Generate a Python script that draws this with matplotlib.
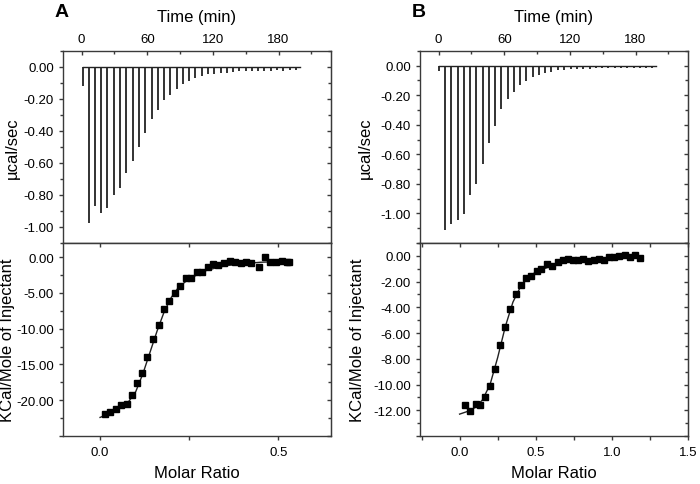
import matplotlib
matplotlib.use('Agg')
import matplotlib.pyplot as plt
from matplotlib.ticker import MultipleLocator, FormatStrFormatter, FuncFormatter

plt.rcParams['font.family'] = ['Liberation Sans', 'DejaVu Sans']
plt.rcParams['axes.unicode_minus'] = False

# ---- panel A: raw heat (injection time in min, peak depth in ucal/sec)
time_a = [1.2, 6.4, 12.2, 18.0, 23.5, 29.3, 35.1, 40.9, 46.7, 52.5, 58.1, 63.9,
          69.6, 75.4, 81.2, 86.8, 92.6, 98.4, 103.9, 109.7, 115.5, 121.3, 127.1,
          132.6, 138.4, 144.2, 150.0, 155.8, 161.3, 167.1, 172.9, 178.7, 184.5,
          190.0, 195.9]
peak_a = [-0.12, -0.975, -0.866, -0.913, -0.88, -0.80, -0.758, -0.665, -0.587,
          -0.502, -0.41, -0.324, -0.267, -0.205, -0.174, -0.138, -0.107, -0.085,
          -0.072, -0.056, -0.045, -0.043, -0.039, -0.035, -0.031, -0.027, -0.027,
          -0.025, -0.023, -0.023, -0.023, -0.021, -0.023, -0.021, -0.019]
run_end_a = 200.0

# ---- panel A: integrated heats
ratio_a = [0.014, 0.028, 0.044, 0.060, 0.075, 0.090, 0.103, 0.118, 0.133, 0.149,
           0.164, 0.179, 0.194, 0.209, 0.225, 0.240, 0.254, 0.271, 0.286, 0.302,
           0.317, 0.332, 0.348, 0.364, 0.379, 0.394, 0.410, 0.424, 0.446, 0.462,
           0.478, 0.493, 0.509, 0.524, 0.530]
heat_a = [-21.9, -21.6, -21.2, -20.6, -20.5, -19.3, -17.6, -16.2, -13.9, -11.5,
          -9.5, -7.3, -6.1, -5.0, -4.0, -2.9, -2.85, -2.0, -2.1, -1.35,
          -1.0, -1.1, -0.8, -0.5, -0.65, -0.8, -0.6, -0.8, -1.4, 0.0,
          -0.7, -0.6, -0.5, -0.6, -0.7]
fit_x_a = [0.0, 0.03, 0.06, 0.08, 0.10, 0.12, 0.14, 0.16, 0.18, 0.20, 0.22,
           0.25, 0.30, 0.35, 0.40, 0.45, 0.53]
fit_y_a = [-22.4, -21.8, -21.0, -20.2, -18.8, -16.3, -13.3, -10.3, -7.6, -5.6,
           -4.2, -3.0, -1.8, -1.2, -0.9, -0.7, -0.55]

# ---- panel B: raw heat
time_b = [0.3, 5.8, 11.5, 17.3, 23.0, 28.8, 34.5, 40.3, 45.8, 51.5, 57.3, 63.0,
          68.8, 74.5, 80.3, 86.1, 91.8, 97.6, 103.0, 109.1, 114.8, 120.6, 126.4,
          132.1, 137.9, 143.6, 149.4, 155.2, 160.9, 166.7, 172.4, 178.2, 183.9,
          189.7, 195.4]
peak_b = [-0.035, -1.11, -1.075, -1.045, -1.007, -0.878, -0.803, -0.667, -0.525,
          -0.407, -0.294, -0.226, -0.176, -0.131, -0.102, -0.079, -0.063, -0.05,
          -0.041, -0.032, -0.027, -0.025, -0.023, -0.021, -0.02, -0.019, -0.018,
          -0.017, -0.016, -0.016, -0.015, -0.015, -0.014, -0.014, -0.013]
run_end_b = 198.5

# ---- panel B: integrated heats
ratio_b = [0.033, 0.066, 0.106, 0.132, 0.165, 0.198, 0.231, 0.267, 0.300, 0.333,
           0.368, 0.403, 0.438, 0.469, 0.507, 0.537, 0.573, 0.608, 0.643, 0.678,
           0.711, 0.744, 0.778, 0.813, 0.846, 0.881, 0.914, 0.947, 0.982, 1.015,
           1.048, 1.084, 1.117, 1.150, 1.185]
heat_b = [-11.6, -12.05, -11.5, -11.6, -10.95, -10.1, -8.8, -6.95, -5.55, -4.15,
          -3.0, -2.3, -1.7, -1.55, -1.2, -1.05, -0.65, -0.78, -0.47, -0.36,
          -0.28, -0.36, -0.31, -0.26, -0.39, -0.31, -0.21, -0.31, -0.10, -0.10,
          -0.05, 0.05, -0.08, 0.05, -0.2]
fit_x_b = [0.0, 0.05, 0.10, 0.15, 0.20, 0.25, 0.30, 0.35, 0.40, 0.45, 0.50,
           0.60, 0.70, 0.80, 0.90, 1.00, 1.19]
fit_y_b = [-12.3, -12.1, -11.8, -11.2, -10.0, -7.9, -5.5, -3.6, -2.4, -1.7,
           -1.25, -0.8, -0.5, -0.35, -0.25, -0.18, -0.12]

SPINE = '#3a3a3a'
fig = plt.figure(figsize=(7, 4.85), dpi=100)


def no_bottom_label(lo):
    # the reference leaves the tick at the lower axis limit unlabelled
    return FuncFormatter(lambda v, p: '' if abs(v - lo) < 1e-9 else f'{v:.2f}')


def style(ax):
    for s in ax.spines.values():
        s.set_color(SPINE)
        s.set_linewidth(1.0)
    ax.tick_params(which='both', colors=SPINE, labelcolor='black', labelsize=9.5, width=1.0)
    ax.tick_params(which='major', length=3)
    ax.tick_params(which='minor', length=2.5)


def inner_right(ax, maj, mnr):
    sec = ax.secondary_yaxis('right')
    sec.yaxis.set_major_locator(MultipleLocator(maj))
    sec.yaxis.set_minor_locator(MultipleLocator(mnr))
    sec.tick_params(which='both', direction='in', colors=SPINE, labelright=False, width=1.0)
    sec.tick_params(which='major', length=3)
    sec.tick_params(which='minor', length=2.5)
    sec.spines['right'].set_color(SPINE)


def raw_panel(rect, t, peaks, t_end, ylim, letter, lab_x):
    ax = fig.add_axes(rect)
    ax.plot([t[0], t_end], [0, 0], color='#222222', lw=1.0)
    ax.vlines(t, peaks, 0, color='#222222', lw=1.3)
    ax.set_xlim(-17, 228)
    ax.set_ylim(*ylim)
    style(ax)
    ax.xaxis.tick_top()
    ax.xaxis.set_label_position('top')
    ax.xaxis.set_major_locator(MultipleLocator(60))
    ax.xaxis.set_minor_locator(MultipleLocator(30))
    ax.yaxis.set_major_locator(MultipleLocator(0.2))
    ax.yaxis.set_minor_locator(MultipleLocator(0.1))
    ax.yaxis.set_major_formatter(no_bottom_label(ylim[0]))
    ax.tick_params(axis='x', which='both', direction='in', top=True, bottom=False)
    ax.tick_params(axis='y', which='both', direction='out', left=True, right=False)
    ax.tick_params(axis='x', pad=4)
    ax.set_xlabel('Time (min)', fontsize=12, labelpad=9)
    ax.set_ylabel('\u00b5cal/sec', fontsize=12)
    ax.yaxis.set_label_coords(lab_x, 0.5)
    inner_right(ax, 0.2, 0.1)
    ax.text(-0.03, 1.205, letter, transform=ax.transAxes, fontsize=14,
            fontweight='bold', ha='left', va='center')
    return ax


def heat_panel(rect, x, y, fx, fy, xlim, ylim, ymaj, ymin, lab_x):
    ax = fig.add_axes(rect)
    ax.plot(fx, fy, color='#222222', lw=1.0, zorder=2)
    ax.plot(x, y, 's', color='black', ms=5, zorder=3)
    ax.set_xlim(*xlim)
    ax.set_ylim(*ylim)
    style(ax)
    ax.xaxis.set_major_locator(MultipleLocator(0.5))
    ax.xaxis.set_minor_locator(MultipleLocator(0.25))
    ax.xaxis.set_major_formatter(FormatStrFormatter('%.1f'))
    ax.yaxis.set_major_locator(MultipleLocator(ymaj))
    ax.yaxis.set_minor_locator(MultipleLocator(ymin))
    ax.yaxis.set_major_formatter(no_bottom_label(ylim[0]))
    ax.tick_params(axis='x', which='both', direction='out', bottom=True, top=False)
    ax.tick_params(axis='x', which='minor', length=3)
    ax.tick_params(axis='y', which='both', direction='out', left=True, right=False)
    ax.tick_params(axis='x', pad=4)
    secx = ax.secondary_xaxis('top')
    secx.xaxis.set_major_locator(MultipleLocator(0.5))
    secx.xaxis.set_minor_locator(MultipleLocator(0.25))
    secx.tick_params(which='both', direction='in', colors=SPINE, labeltop=False, length=3, width=1.0)
    secx.spines['top'].set_color(SPINE)
    inner_right(ax, ymaj, ymin)
    ax.set_xlabel('Molar Ratio', fontsize=12, labelpad=5)
    ax.set_ylabel('KCal/Mole of Injectant', fontsize=12)
    ax.yaxis.set_label_coords(lab_x, 0.5)
    return ax


top_h = 0.396
bot_h = 0.398
raw_panel([0.090, 0.497, 0.383, top_h], time_a, peak_a, run_end_a, (-1.1, 0.1), 'A', -0.16)
raw_panel([0.600, 0.497, 0.383, top_h], time_b, peak_b, run_end_b, (-1.2, 0.1), 'B', -0.175)
heat_panel([0.090, 0.099, 0.383, bot_h], ratio_a, heat_a, fit_x_a, fit_y_a,
           (-0.104, 0.648), (-25, 2), 5, 2.5, -0.18)
heat_panel([0.600, 0.099, 0.383, bot_h], ratio_b, heat_b, fit_x_b, fit_y_b,
           (-0.26, 1.5), (-14, 1), 2, 1, -0.205)

fig.savefig('out.png', dpi=100)
